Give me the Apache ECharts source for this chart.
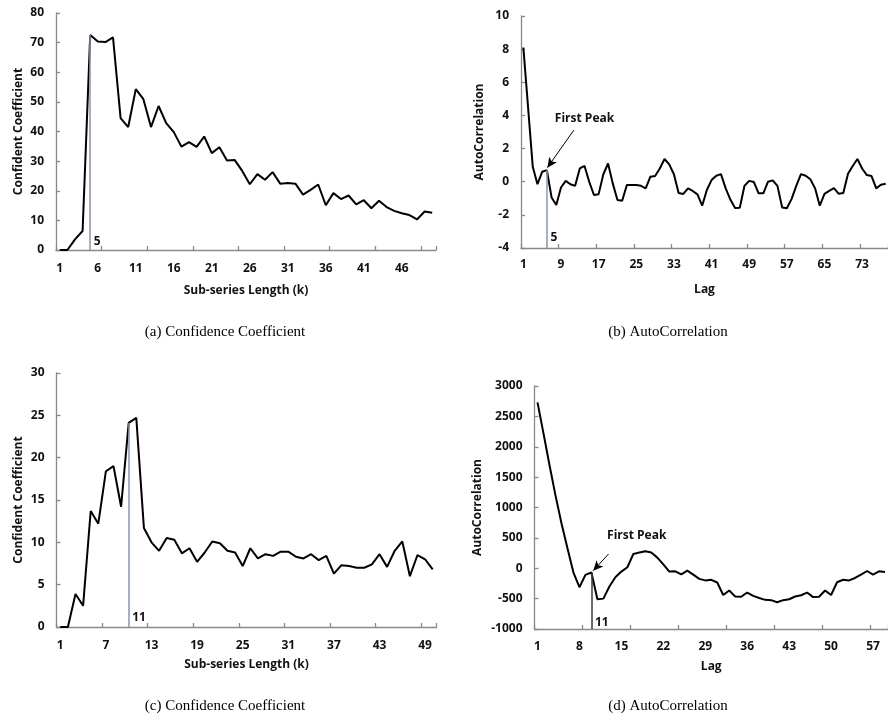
<!DOCTYPE html>
<html>
<head>
<meta charset="utf-8">
<script src="https://cdn.jsdelivr.net/npm/echarts@6/dist/echarts.min.js"></script>
<style>
html,body{margin:0;padding:0;background:#fff;}
#chart{width:888px;height:722px;}
</style>
</head>
<body>
<div id="chart"></div>
<script>
// ---------- data ----------
const catsA = ['1','2','3','4','5','6','7','8','9','10','11','12','13','14','15','16','17','18','19','20','21','22','23','24','25','26','27','28','29','30','31','32','33','34','35','36','37','38','39','40','41','42','43','44','45','46','47','48','49','50'];
const confA = [0, 0, 3.6, 6.4, 72.6, 70.4, 70.2, 71.8, 44.5, 41.5, 54.3, 50.9, 41.5, 48.6, 42.8, 39.8, 34.9, 36.4, 34.8, 38.3, 32.7, 34.7, 30.2, 30.4, 26.7, 22.2, 25.6, 23.7, 26.3, 22.4, 22.6, 22.4, 18.7, 20.3, 22.1, 15.1, 19.2, 17.2, 18.4, 15.4, 16.8, 14.1, 16.6, 14.5, 13.2, 12.4, 11.8, 10.3, 13.0, 12.6];

const lagsB = ['1','2','3','4','5','6','7','8','9','10','11','12','13','14','15','16','17','18','19','20','21','22','23','24','25','26','27','28','29','30','31','32','33','34','35','36','37','38','39','40','41','42','43','44','45','46','47','48','49','50','51','52','53','54','55','56','57','58','59','60','61','62','63','64','65','66','67','68','69','70','71','72','73','74','75','76','77','78'];
const acfB = [8.1, 4.5, 0.9, -0.15, 0.6, 0.7, -0.95, -1.4, -0.35, 0.05, -0.15, -0.25, 0.8, 0.95, 0.0, -0.8, -0.75, 0.45, 1.1, -0.1, -1.1, -1.15, -0.2, -0.2, -0.2, -0.25, -0.4, 0.3, 0.35, 0.8, 1.37, 1.05, 0.45, -0.68, -0.74, -0.4, -0.56, -0.76, -1.45, -0.5, 0.1, 0.36, 0.46, -0.4, -1.08, -1.58, -1.57, -0.24, 0.05, -0.02, -0.7, -0.7, 0.0, 0.08, -0.25, -1.55, -1.6, -1.05, -0.25, 0.46, 0.36, 0.15, -0.4, -1.45, -0.73, -0.55, -0.39, -0.72, -0.68, 0.48, 0.95, 1.37, 0.8, 0.4, 0.34, -0.4, -0.18, -0.12];

const catsC = ['1','2','3','4','5','6','7','8','9','10','11','12','13','14','15','16','17','18','19','20','21','22','23','24','25','26','27','28','29','30','31','32','33','34','35','36','37','38','39','40','41','42','43','44','45','46','47','48','49','50'];
const confC = [0, 0, 3.9, 2.5, 13.7, 12.2, 18.4, 19.0, 14.2, 24.1, 24.7, 11.7, 10.0, 9.0, 10.5, 10.3, 8.7, 9.3, 7.7, 8.8, 10.1, 9.9, 9.0, 8.8, 7.2, 9.3, 8.1, 8.6, 8.4, 8.9, 8.9, 8.3, 8.1, 8.6, 7.9, 8.4, 6.3, 7.3, 7.2, 7.0, 7.0, 7.4, 8.6, 7.1, 9.0, 10.1, 6.0, 8.5, 8.0, 6.8];

const lagsD = ['1','2','3','4','5','6','7','8','9','10','11','12','13','14','15','16','17','18','19','20','21','22','23','24','25','26','27','28','29','30','31','32','33','34','35','36','37','38','39','40','41','42','43','44','45','46','47','48','49','50','51','52','53','54','55','56','57','58','59'];
const acfD = [2730, 2220, 1700, 1200, 740, 330, -70, -312, -110, -70, -510, -500, -300, -148, -55, 16, 235, 258, 280, 258, 175, 65, -55, -50, -100, -40, -105, -175, -200, -190, -235, -440, -367, -465, -470, -400, -455, -490, -520, -525, -560, -525, -510, -465, -445, -400, -475, -470, -367, -440, -230, -190, -200, -160, -105, -45, -105, -50, -60];

// first-peak markers (0-based category index, label text)
const peakA = {idx: 4, text: '5'};
const peakB = {idx: 5, text: '5'};
const peakC = {idx: 9, text: '11'};
const peakD = {idx: 9, text: '11'};

const captions = ['(a) Confidence Coefficient', '(b) AutoCorrelation', '(c) Confidence Coefficient', '(d) AutoCorrelation'];

// ---------- style ----------
const FONT = 'Open Sans';
const axisGray = '#898989';
const bold = {fontFamily: FONT, fontWeight: 'bold', fontSize: 12, color: '#111'};

function xCat(grid, data, labInt, tickInt, labMargin, name, nameGap) {
  return {
    type: 'category', gridIndex: grid, data: data, boundaryGap: true,
    name: name, nameLocation: 'middle', nameGap: nameGap,
    nameTextStyle: Object.assign({}, bold),
    axisLine: {show: true, onZero: false, lineStyle: {color: axisGray, width: 1.3}},
    axisTick: {show: true, inside: true, length: 4, interval: tickInt, lineStyle: {color: axisGray, width: 1.3}},
    axisLabel: Object.assign({interval: labInt, margin: labMargin}, bold),
    splitLine: {show: false}
  };
}
function xHidden(grid, n) {
  return {type: 'value', gridIndex: grid, min: -0.5, max: n - 0.5, show: false, splitLine: {show: false}};
}
function yVal(grid, min, max, interval, name, nameGap) {
  return {
    type: 'value', gridIndex: grid, min: min, max: max, interval: interval,
    name: name, nameLocation: 'middle', nameGap: nameGap,
    nameTextStyle: Object.assign({}, bold),
    axisLine: {show: true, onZero: false, lineStyle: {color: axisGray, width: 1.3}},
    axisTick: {show: true, inside: true, length: 4, lineStyle: {color: axisGray, width: 1.3}},
    axisLabel: Object.assign({margin: 12, formatter: function (v) { return String(v); }}, bold),
    splitLine: {show: false}
  };
}
function mainLine(i, data) {
  return {type: 'line', xAxisIndex: i, yAxisIndex: i, data: data, showSymbol: false, symbol: 'none',
          lineStyle: {color: '#000', width: 2}, animation: false, silent: true, z: 3};
}
function annot(i, peak, yBase, peakVal, markColor, labelY, arrow, textPos) {
  const lines = [[{coord: [peak.idx, yBase]}, {coord: [peak.idx, peakVal]}]];
  lines[0][0].lineStyle = {color: markColor, width: 1.5, type: 'solid'};
  if (arrow) {
    lines.push([{coord: arrow[0], symbol: 'none', lineStyle: {color: '#000', width: 1, type: 'solid'}},
                {coord: arrow[1], symbol: 'arrow', symbolSize: [7, 10], lineStyle: {color: '#000', width: 1, type: 'solid'}}]);
  }
  const points = [{coord: [peak.idx, labelY], symbol: 'circle', symbolSize: 1, itemStyle: {color: 'rgba(0,0,0,0)'},
                   label: Object.assign({show: true, formatter: peak.text, position: 'right', distance: 3}, bold)}];
  if (textPos) {
    points.push({coord: textPos, symbol: 'circle', symbolSize: 1, itemStyle: {color: 'rgba(0,0,0,0)'},
                 label: Object.assign({show: true, formatter: 'First Peak', position: 'inside'}, bold)});
  }
  return {
    type: 'line', xAxisIndex: 4 + i, yAxisIndex: i, data: [], animation: false, silent: true, z: 4,
    markLine: {silent: true, animation: false, symbol: ['none', 'none'], label: {show: false},
               lineStyle: {color: '#000', width: 1, type: 'solid'}, emphasis: {disabled: true}, data: lines},
    markPoint: {silent: true, animation: false, data: points}
  };
}

const capStyle = {fontFamily: 'Liberation Serif', fontSize: 15, fontWeight: 'normal', color: '#000'};

const option = {
  backgroundColor: '#fff',
  animation: false,
  title: [
    {text: captions[0], left: 225, top: 325, textAlign: 'center', textStyle: capStyle, padding: 0},
    {text: captions[1], left: 668, top: 325, textAlign: 'center', textStyle: capStyle, padding: 0},
    {text: captions[2], left: 225, top: 699, textAlign: 'center', textStyle: capStyle, padding: 0},
    {text: captions[3], left: 668, top: 699, textAlign: 'center', textStyle: capStyle, padding: 0}
  ],
  grid: [
    {left: 56, top: 13, width: 380, height: 237},
    {left: 521, top: 16, width: 368, height: 232},
    {left: 56.5, top: 373, width: 380, height: 254},
    {left: 534.5, top: 386, width: 355, height: 243}
  ],
  xAxis: [
    xCat(0, catsA, 4, 5, 13, 'Sub-series Length (k)', 35),
    xCat(1, lagsB, 7, 7, 11, 'Lag', 36),
    xCat(2, catsC, 5, 5, 13, 'Sub-series Length (k)', 32),
    xCat(3, lagsD, 6, 7, 12, 'Lag', 32),
    xHidden(0, catsA.length),
    xHidden(1, lagsB.length),
    xHidden(2, catsC.length),
    xHidden(3, lagsD.length)
  ],
  yAxis: [
    yVal(0, 0, 80, 10, 'Confident Coefficient', 31),
    yVal(1, -4, 10, 2, 'AutoCorrelation', 35),
    yVal(2, 0, 30, 5, 'Confident Coefficient', 32),
    yVal(3, -1000, 3000, 500, 'AutoCorrelation', 51)
  ],
  series: [
    mainLine(0, confA),
    mainLine(1, acfB),
    mainLine(2, confC),
    mainLine(3, acfD),
    annot(0, peakA, 0, confA[peakA.idx], '#8797ad', 3, null, null),
    annot(1, peakB, -4, acfB[peakB.idx], '#8797ad', -3.4, [[10.72, 3.11], [5.1, 0.85]], [13.0, 3.84]),
    annot(2, peakC, 0, confC[peakC.idx], '#8797ad', 1.15, null, null),
    annot(3, peakD, -1000, acfD[peakD.idx], '#3a3a3a', -888, [[11.86, 235], [9.3, -40]], [16.56, 531])
  ]
};

const chart = echarts.init(document.getElementById('chart'), null, {renderer: 'canvas'});
chart.setOption(option);
</script>
</body>
</html>
